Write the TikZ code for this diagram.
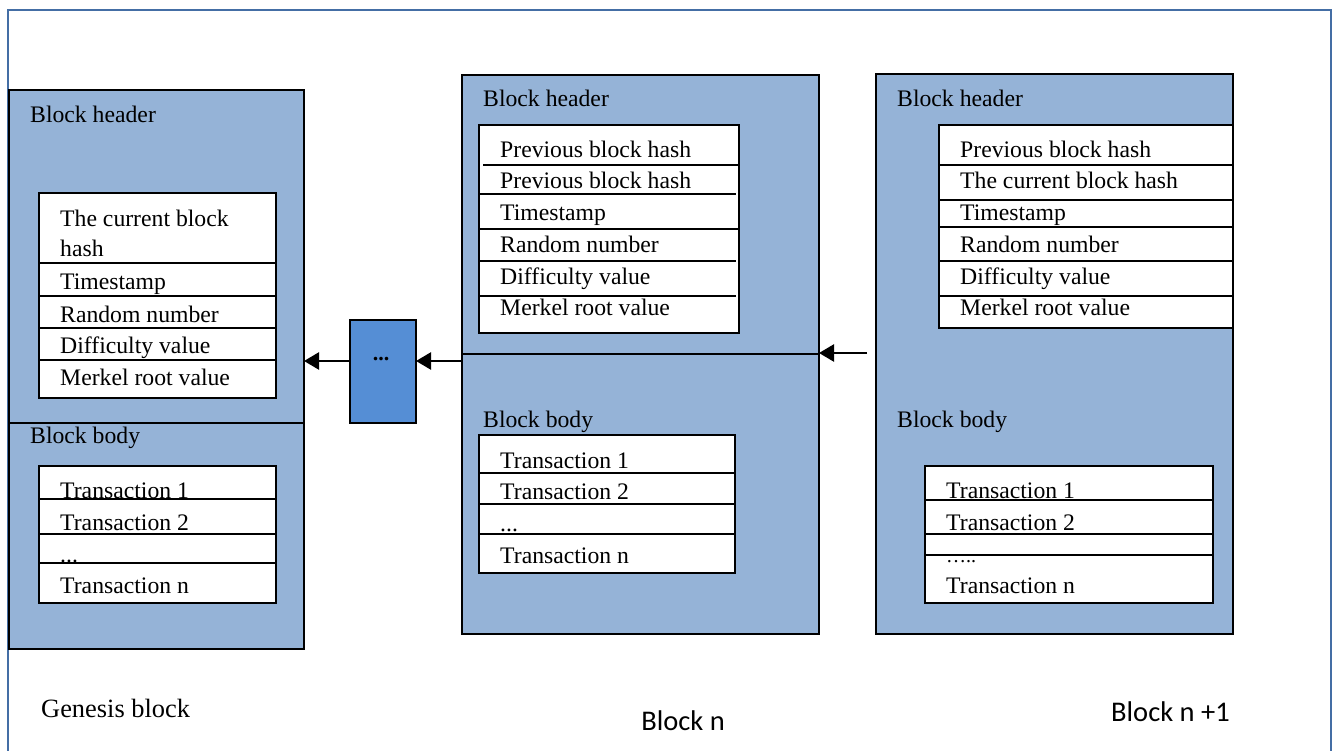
\documentclass[tikz,border=0pt]{standalone}
\usepackage{fontspec}
\setmainfont{Liberation Serif}
\newfontfamily\labelsans{Carlito}
\usetikzlibrary{arrows.meta}
\definecolor{blockfill}{RGB}{149,179,215}
\definecolor{linkfill}{RGB}{85,142,213}
\definecolor{framecol}{RGB}{68,110,165}
\newcommand{\rowfont}{\fontsize{23.7}{28}\selectfont}
\tikzset{
  blockbox/.style={draw=black, line width=2pt, fill=blockfill, anchor=north west, inner sep=0pt, outer sep=0pt},
  tablebox/.style={draw=black, line width=2pt, fill=white, anchor=north west, inner sep=0pt, outer sep=0pt},
  linkbox/.style={draw=black, line width=2pt, fill=linkfill, anchor=north west, inner sep=0pt, outer sep=0pt},
  rowline/.style={draw=black, line width=2pt},
  txt/.style={anchor=base west, inner sep=0pt, font=\rowfont},
  chainarrow/.style={draw=black, line width=2.5pt, -{Triangle[length=15pt,width=17pt]}},
  frameline/.style={draw=framecol, line width=2pt}
}
\begin{document}
\begin{tikzpicture}[x=1pt, y=-1pt]
\useasboundingbox (0,0) rectangle (1338,751);
\draw[frameline] (8,751) -- (8,10) -- (1331,10) -- (1331,751);

% ---------- Genesis block ----------
\node[blockbox, minimum width=295pt, minimum height=559pt] (gen) at (9,90) {};
\draw[rowline] (9,423) -- (304,423);
\node[txt] (gen-head) at (30,123) {Block header};
\node[tablebox, minimum width=237pt, minimum height=205pt] (gen-htab) at (39,193) {};
\draw[rowline] (39,263) -- (276,263);
\draw[rowline] (39,296) -- (276,296);
\draw[rowline] (39,328) -- (276,328);
\draw[rowline] (39,360) -- (276,360);
\node[txt] (gen-h1) at (60,227) {The current block};
\node[txt] (gen-h1b) at (60,257) {hash};
\node[txt] (gen-h2) at (60,290) {Timestamp};
\node[txt] (gen-h3) at (60,322) {Random number};
\node[txt] (gen-h4) at (60,353) {Difficulty value};
\node[txt] (gen-h5) at (60,385) {Merkel root value};
\node[txt] (gen-body) at (30,443) {Block body};
\node[tablebox, minimum width=237pt, minimum height=137pt] (gen-btab) at (39,466) {};
\draw[rowline] (39,499) -- (276,499);
\draw[rowline] (39,534) -- (276,534);
\draw[rowline] (39,563) -- (276,563);
\node[txt] (gen-t1) at (60,498) {Transaction 1};
\node[txt] (gen-t2) at (60,530) {Transaction 2};
\node[txt] (gen-t3) at (60,562) {...};
\node[txt] (gen-tn) at (60,593) {Transaction n};
\node[anchor=base west, inner sep=0pt, font=\fontsize{26.4}{30}\selectfont] (gen-name) at (41,717) {Genesis block};

% ---------- Intermediate blocks ----------
\node[linkbox, minimum width=66pt, minimum height=103pt] (dots) at (350,320) {};
\node[anchor=base, inner sep=0pt, font=\fontsize{22}{26}\selectfont\bfseries] (dots-txt) at (381,360) {...};

% ---------- Block n ----------
\node[blockbox, minimum width=357pt, minimum height=559pt] (bn) at (462,75) {};
\draw[rowline] (462,354) -- (819,354);
\node[txt] (bn-head) at (483,107) {Block header};
\node[tablebox, minimum width=260pt, minimum height=208pt] (bn-htab) at (479,125) {};
\draw[rowline] (483,165) -- (739,165);
\draw[rowline] (479,194) -- (736,194);
\draw[rowline] (479,229) -- (739,229);
\draw[rowline] (479,261) -- (736,261);
\draw[rowline] (479,296) -- (736,296);
\node[txt] (bn-h1) at (500,158) {Previous block hash};
\node[txt] (bn-h2) at (500,189) {Previous block hash};
\node[txt] (bn-h3) at (500,221) {Timestamp};
\node[txt] (bn-h4) at (500,253) {Random number};
\node[txt] (bn-h5) at (500,284) {Difficulty value};
\node[txt] (bn-h6) at (500,316) {Merkel root value};
\node[txt] (bn-body) at (483,427) {Block body};
\node[tablebox, minimum width=256pt, minimum height=138pt] (bn-btab) at (479,435) {};
\draw[rowline] (479,473) -- (735,473);
\draw[rowline] (479,504) -- (735,504);
\draw[rowline] (479,534) -- (735,534);
\node[txt] (bn-t1) at (500,468) {Transaction 1};
\node[txt] (bn-t2) at (500,499) {Transaction 2};
\node[txt] (bn-t3) at (500,531) {...};
\node[txt] (bn-tn) at (500,563) {Transaction n};
\node[anchor=base, inner sep=0pt, font=\labelsans\fontsize{28.5}{32}\selectfont] (bn-name) at (683,730) {Block n};

% ---------- Block n+1 ----------
\node[blockbox, minimum width=357pt, minimum height=560pt] (bm) at (876,74) {};
\node[txt] (bm-head) at (897,107) {Block header};
\node[tablebox, minimum width=294pt, minimum height=203pt] (bm-htab) at (939,125) {};
\draw[rowline] (939,165) -- (1233,165);
\draw[rowline] (939,200) -- (1233,200);
\draw[rowline] (939,227) -- (1233,227);
\draw[rowline] (939,261) -- (1233,261);
\draw[rowline] (939,296) -- (1233,296);
\node[txt] (bm-h1) at (960,158) {Previous block hash};
\node[txt] (bm-h2) at (960,189) {The current block hash};
\node[txt] (bm-h3) at (960,221) {Timestamp};
\node[txt] (bm-h4) at (960,253) {Random number};
\node[txt] (bm-h5) at (960,284) {Difficulty value};
\node[txt] (bm-h6) at (960,316) {Merkel root value};
\node[txt] (bm-body) at (897,427) {Block body};
\node[tablebox, minimum width=288pt, minimum height=137pt] (bm-btab) at (925,466) {};
\draw[rowline] (925,500) -- (1213,500);
\draw[rowline] (925,534) -- (1213,534);
\draw[rowline] (925,555) -- (1213,555);
\node[txt] (bm-t1) at (946,498) {Transaction 1};
\node[txt] (bm-t2) at (946,530) {Transaction 2};
\node[txt] (bm-t3) at (946,562) {\fontsize{20}{22}\selectfont …..};
\node[txt] (bm-tn) at (946,593) {Transaction n};
\node[anchor=base west, inner sep=0pt, font=\labelsans\fontsize{28.5}{32}\selectfont] (bm-name) at (1111,721) {Block n +1};

% ---------- Chain links ----------
\coordinate (link1) at ([yshift=10.5pt]dots.west);
\draw[chainarrow] (link1) -- (link1 -| gen.east);
\draw[chainarrow] (link1 -| bn.west) -- (link1 -| dots.east);
\coordinate (link2) at (867,353);
\draw[chainarrow] (link2) -- (link2 -| bn.east);
\end{tikzpicture}
\end{document}
